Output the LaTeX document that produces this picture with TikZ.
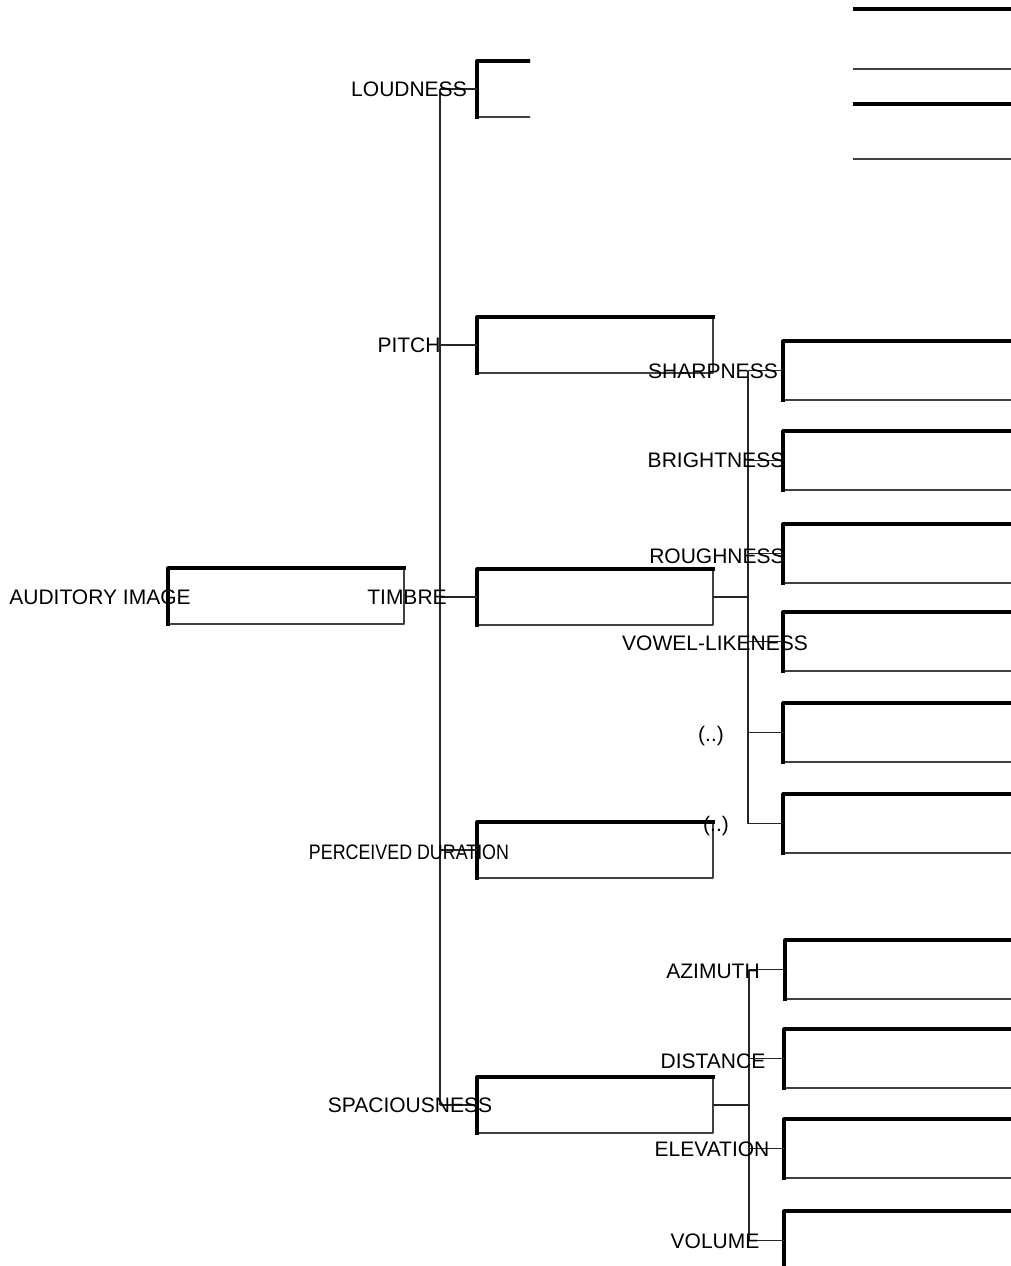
\documentclass[tikz,border=0pt]{standalone}
\usepackage{fontspec}
\setmainfont{Liberation Sans}
\begin{document}
\begin{tikzpicture}[x=1pt, y=-1pt, line join=round,
  panel/.style={rectangle, anchor=north west, inner sep=0pt, outer sep=0pt,
    minimum width=236pt, minimum height=56pt,
    append after command={\pgfextra{
      \draw[black!75, line width=1.5pt] (\tikzlastnode.south west) rectangle (\tikzlastnode.north east);
      \draw[black, line width=3.2pt, line cap=rect] (\tikzlastnode.south west)
        -- (\tikzlastnode.north west) -- (\tikzlastnode.north east);}}},
  tall/.style={minimum height=59pt},
  lbl/.style={font=\fontsize{21}{24}\selectfont, inner sep=0pt},
  link/.style={draw=black!85, line width=1.4pt}]
  \clip (0,0) rectangle (1011,1266);
  % boxes
  \node[panel] (root) at (168,568) {};
  \begin{scope}
    \clip (0,0) rectangle (530,200);
    \node[panel] (loud) at (477,61) {};
  \end{scope}
  \begin{scope}
    \clip (853,0) rectangle (1011,200);
    \node[panel, minimum height=60pt] (topA) at (845,9) {};
    \node[panel, minimum height=55pt] (topB) at (845,104) {};
  \end{scope}
  \node[panel] (pitch) at (477,317) {};
  \node[panel] (timbre) at (477,569) {};
  \node[panel] (dur) at (477,822) {};
  \node[panel] (space) at (477,1077) {};
  \node[panel, tall] (sharp) at (783,341) {};
  \node[panel, tall] (bright) at (783,431) {};
  \node[panel, tall] (rough) at (783,524) {};
  \node[panel, tall] (vowel) at (783,612) {};
  \node[panel, tall] (etcA) at (783,703) {};
  \node[panel, tall] (etcB) at (783,794) {};
  \node[panel, tall] (azim) at (785,940) {};
  \node[panel, tall] (dist) at (784,1029) {};
  \node[panel, tall] (elev) at (784,1119) {};
  \node[panel, tall] (vol) at (784,1211) {};
  % connectors
  \coordinate (trunk) at (440,0);
  \coordinate (midA) at (748,0);
  \coordinate (midB) at (749,0);
  \draw[link] (trunk |- loud.west) -- (trunk |- space.west);
  \foreach \n in {loud,pitch,timbre,dur,space}
    \draw[link] (trunk |- \n.west) -- (\n.west);
  \draw[link] (midA |- sharp.west) -- (midA |- etcB.west);
  \draw[link] (timbre.east) -- (midA |- timbre.east);
  \foreach \n in {sharp,bright,rough,vowel,etcA,etcB}
    \draw[link] (midA |- \n.west) -- (\n.west);
  \draw[link] (midB |- azim.west) -- (midB |- vol.west);
  \draw[link] (space.east) -- (midB |- space.east);
  \foreach \n in {azim,dist,elev,vol}
    \draw[link] (midB |- \n.west) -- (\n.west);
  % labels
  \node[lbl] (t-root) at (100,597) {AUDITORY IMAGE};
  \node[lbl] (t-loud) at (409,89) {LOUDNESS};
  \node[lbl] (t-pitch) at (409,345) {PITCH};
  \node[lbl] (t-timbre) at (407,597) {TIMBRE};
  \node[lbl] (t-dur) at (409,852) {\scalebox{0.85}[1]{PERCEIVED DURATION}};
  \node[lbl] (t-space) at (410,1105) {SPACIOUSNESS};
  \node[lbl] (t-sharp) at (713,371) {SHARPNESS};
  \node[lbl] (t-bright) at (716,460) {BRIGHTNESS};
  \node[lbl] (t-rough) at (717,556) {ROUGHNESS};
  \node[lbl] (t-vowel) at (715,643) {VOWEL-LIKENESS};
  \node[lbl] (t-etcA) at (711,736) {(..)};
  \node[lbl] (t-etcB) at (716,826) {(..)};
  \node[lbl] (t-azim) at (713,971) {AZIMUTH};
  \node[lbl] (t-dist) at (713,1061) {DISTANCE};
  \node[lbl] (t-elev) at (712,1149) {ELEVATION};
  \node[lbl] (t-vol) at (715,1241) {VOLUME};
\end{tikzpicture}
\end{document}
